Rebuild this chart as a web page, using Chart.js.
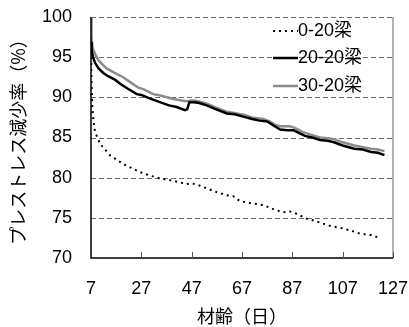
<!DOCTYPE html>
<html><head><meta charset="utf-8">
<script src="https://cdn.jsdelivr.net/npm/chart.js@4/dist/chart.umd.min.js"></script>
<style>html,body{margin:0;padding:0;background:#fff;}#wrap{width:409px;height:327px;}</style>
</head><body><div id="wrap"><canvas id="c" width="409" height="327"></canvas></div>
<script>
const seriesNames = ["0-20梁", "20-20梁", "30-20梁"];
const xTicks = [7, 27, 47, 67, 87, 107, 127];
const yTicks = [70, 75, 80, 85, 90, 95, 100];

const days0 = [7,7.2,7.5,8,8.6,10.6,14.5,19.8,26.4,30,34.4,40,45,47,50.3,56.9,61,63.5,66.1,71,75.4,80,83.3,86,88,92.6,95.2,99,101.9,107,112.4,114,117.7,121.7];
const vals0 = [96.5,92,89,87,85.7,84.2,82.8,81.7,80.7,80.3,79.9,79.6,79.2,79.3,79.0,78.2,77.8,77.7,77.1,76.8,76.6,76.0,75.7,75.8,75.6,74.9,74.7,74.3,74.0,73.7,73.2,73.0,72.9,72.5];

const days20 = [7,7.3,7.8,8.6,10,12,14,16.5,19,22,25.2,27,30,34.4,38,41,44.4,45.2,46.1,48,50,53,56,61,64,67.5,71,74,77,80,82.2,85,87.5,90,92,94.9,98,101,103.6,107,111.6,115,118.3,121,123.6];
const vals20 = [96.9,95.8,95.0,94.3,93.6,93.0,92.6,92.2,91.6,91.0,90.4,90.3,89.9,89.4,89.0,88.8,88.4,88.5,89.4,89.4,89.3,89.0,88.6,88.0,87.9,87.6,87.3,87.1,87.0,86.4,86.0,85.9,85.9,85.5,85.2,85.0,84.7,84.6,84.4,84.0,83.6,83.5,83.2,83.1,82.8];

const days30 = [7,7.2,7.6,8.6,10,13.2,16,19.8,23,25.8,28,31.7,35,39.7,43,45,46.5,48,50,53,56,61,65,68,71,75.4,78,80,82.2,86,88,91,94.9,98,101,103.6,107,111.6,115,118.3,121,123.6];
const vals30 = [100,97.5,96.2,95.4,94.6,93.6,93.1,92.5,91.8,91.2,91.0,90.4,90.2,89.8,89.6,89.5,89.6,89.6,89.5,89.2,88.8,88.2,88.0,87.8,87.5,87.3,87.0,86.6,86.4,86.4,86.2,85.7,85.3,85.0,84.9,84.8,84.4,84.0,83.8,83.6,83.5,83.3];

const pts = (d, v) => d.map((x, i) => ({x: x, y: v[i]}));
const FONT = "'Liberation Sans', Arial, 'Noto Sans CJK JP', sans-serif";
const JFONT = "'Noto Sans CJK JP', 'Liberation Sans', sans-serif";

const datasets = [
  {label: seriesNames[0], data: pts(days0, vals0), borderColor: '#000', borderWidth: 2, borderDash: [2, 4], borderCapStyle: 'butt'},
  {label: seriesNames[1], data: pts(days20, vals20), borderColor: '#000', borderWidth: 2.5},
  {label: seriesNames[2], data: pts(days30, vals30), borderColor: '#8c8c8c', borderWidth: 2.5}
].map(d => Object.assign({showLine: true, pointRadius: 0, fill: false, tension: 0}, d));

const extras = {
  id: 'extras',
  beforeDatasetsDraw(chart) {
    const ctx = chart.ctx, a = chart.chartArea, ys = chart.scales.y;
    ctx.save();
    ctx.strokeStyle = '#6e6e6e'; ctx.lineWidth = 1; ctx.setLineDash([5, 3]);
    yTicks.slice(1).forEach(t => {
      const py = Math.round(ys.getPixelForValue(t)) + 0.5;
      ctx.beginPath(); ctx.moveTo(a.left, py); ctx.lineTo(a.right, py); ctx.stroke();
    });
    ctx.restore();
  },
  afterDatasetsDraw(chart) {
    const ctx = chart.ctx, a = chart.chartArea, xs = chart.scales.x;
    ctx.save();
    ctx.setLineDash([]);
    // right border
    ctx.strokeStyle = '#999'; ctx.lineWidth = 1.5;
    ctx.beginPath(); ctx.moveTo(a.right, a.top); ctx.lineTo(a.right, a.bottom); ctx.stroke();
    // left and bottom axes
    ctx.strokeStyle = '#000'; ctx.lineWidth = 1.5;
    ctx.beginPath(); ctx.moveTo(a.left, a.top); ctx.lineTo(a.left, a.bottom); ctx.lineTo(a.right, a.bottom); ctx.stroke();
    // inner x tick marks
    ctx.strokeStyle = '#555'; ctx.lineWidth = 1;
    xTicks.slice(1).forEach(t => {
      const px = Math.round(xs.getPixelForValue(t)) + 0.5;
      ctx.beginPath(); ctx.moveTo(px, a.bottom); ctx.lineTo(px, a.bottom - 6); ctx.stroke();
    });
    // legend
    const rows = [31, 58, 86];
    ctx.font = '18px ' + FONT;
    ctx.textBaseline = 'middle'; ctx.textAlign = 'left';
    chart.data.datasets.forEach((ds, i) => {
      const y = rows[i];
      ctx.strokeStyle = ds.borderColor; ctx.lineWidth = ds.borderWidth;
      ctx.setLineDash(ds.borderDash || []);
      ctx.beginPath(); ctx.moveTo(273, y); ctx.lineTo(298, y); ctx.stroke();
      ctx.setLineDash([]);
      ctx.fillStyle = '#000';
      ctx.fillText(ds.label, 298, y);
    });
    ctx.restore();
  }
};

new Chart(document.getElementById('c'), {
  type: 'scatter',
  data: {datasets: datasets},
  plugins: [extras],
  options: {
    responsive: false, animation: false, devicePixelRatio: 1,
    layout: {padding: {left: 0, right: 16, top: 17, bottom: 0}},
    plugins: {legend: {display: false}, tooltip: {enabled: false}},
    scales: {
      x: {
        type: 'linear', min: 7, max: 127,
        afterBuildTicks: s => { s.ticks = xTicks.map(v => ({value: v})); },
        afterFit: s => { s.height = 69; s.paddingLeft = 0; s.paddingRight = 0; },
        grid: {display: false, drawTicks: false},
        border: {display: false},
        ticks: {color: '#000', font: {size: 18, family: FONT}, padding: 20, maxRotation: 0, autoSkip: false},
        title: {display: true, text: '材齢（日）', color: '#000', font: {size: 18, family: JFONT}, padding: {top: 0, bottom: 0}}
      },
      y: {
        min: 70, max: 100,
        afterBuildTicks: s => { s.ticks = yTicks.map(v => ({value: v})); },
        afterFit: s => { s.width = 91; s.paddingTop = 0; s.paddingBottom = 0; },
        grid: {display: false, drawTicks: false},
        border: {display: false},
        ticks: {color: '#000', font: {size: 18, family: FONT}, padding: 19},
        title: {display: true, text: 'プレストレス減少率（%）', color: '#000', font: {size: 18, family: JFONT}, padding: {top: 7, bottom: 3}}
      }
    }
  }
});
</script>
</body></html>
